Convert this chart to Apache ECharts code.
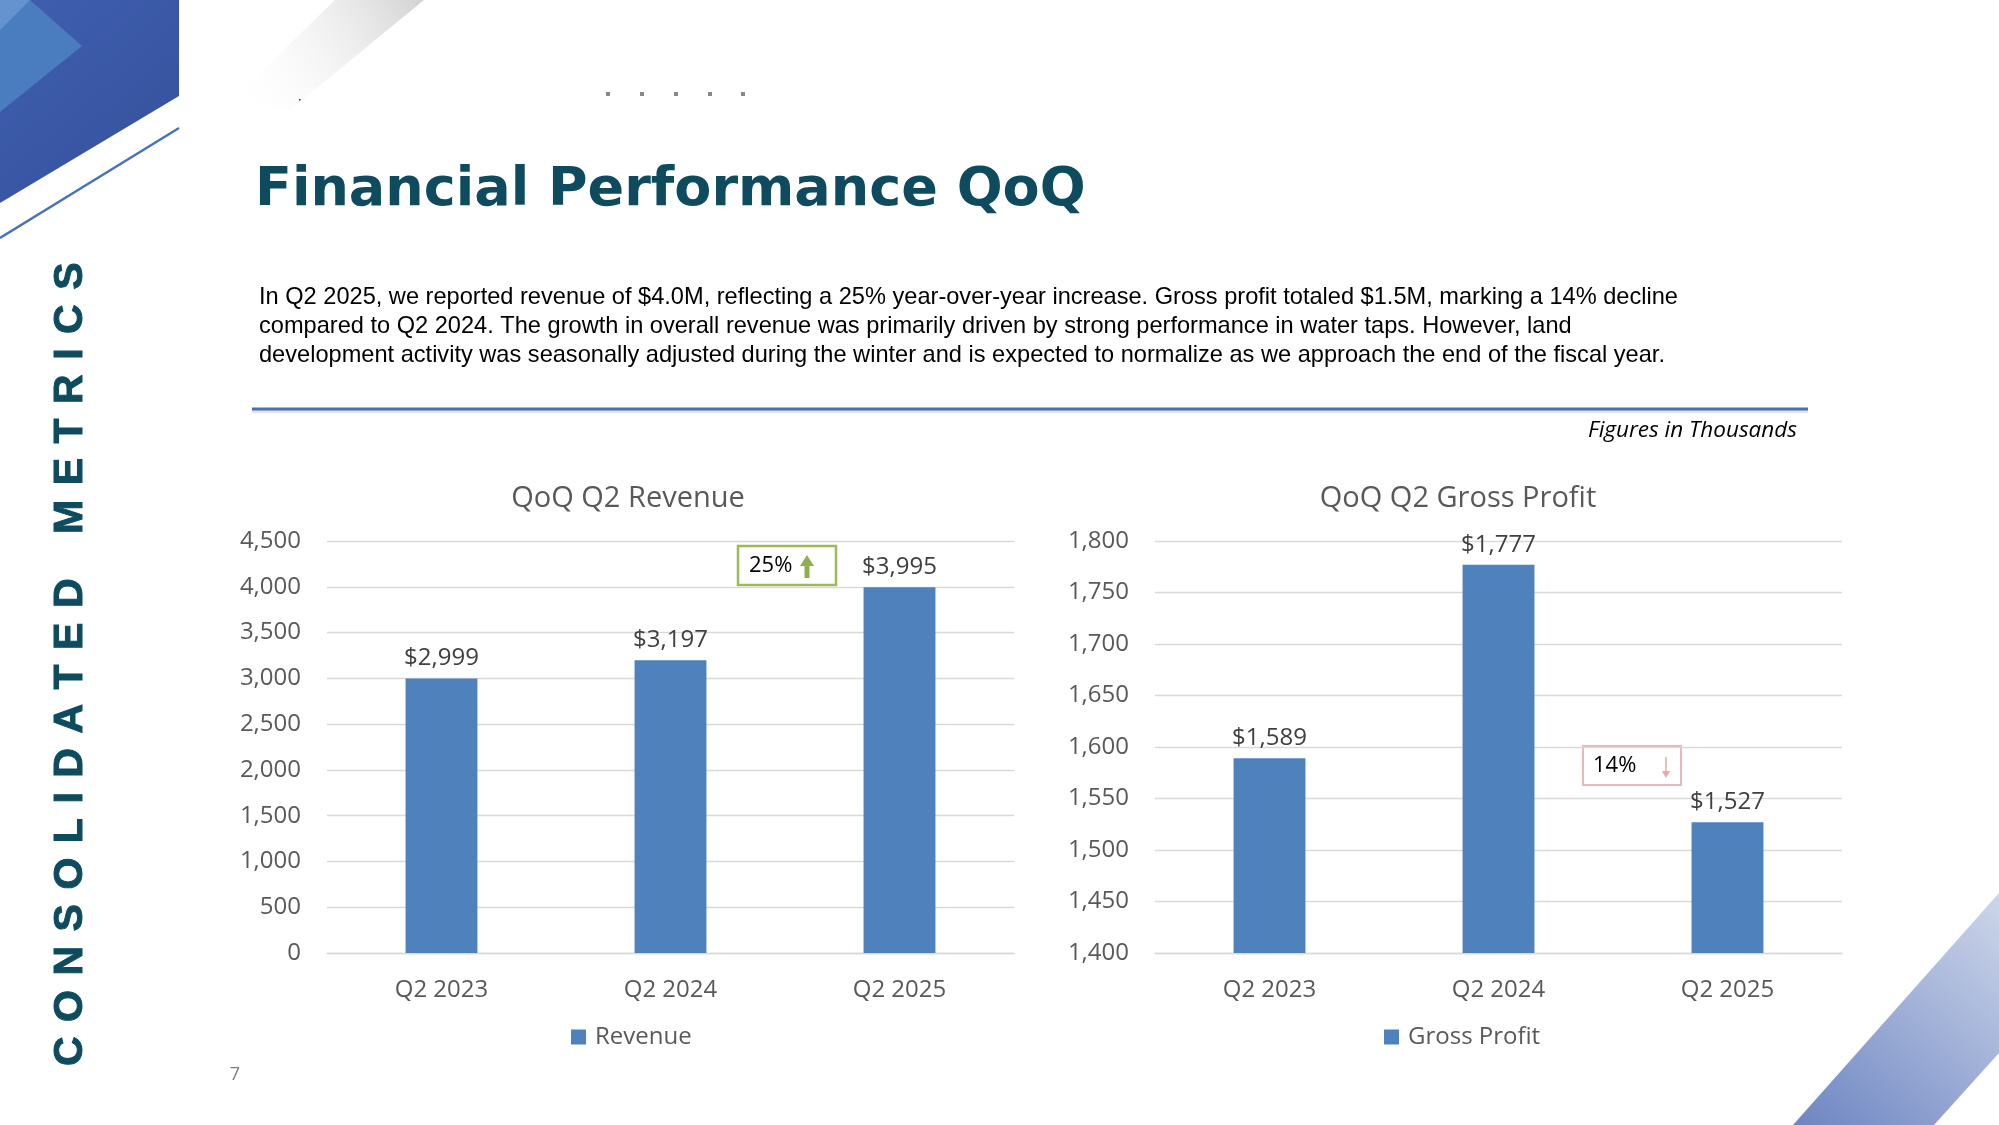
<!DOCTYPE html>
<html><head><meta charset="utf-8">
<script src="https://cdn.jsdelivr.net/npm/echarts@6/dist/echarts.min.js"></script>
<style>html,body{margin:0;padding:0;background:#fff}#c{width:1999px;height:1125px}</style>
</head><body><div id="c"></div>
<script>
// ---- data ----
const categories = ['Q2 2023', 'Q2 2024', 'Q2 2025'];
const revenue = [2999, 3197, 3995];
const grossProfit = [1589, 1777, 1527];
const revenueAxis = { min: 0, max: 4500, interval: 500 };
const grossProfitAxis = { min: 1400, max: 1800, interval: 50 };
const revenueChange = '25%';
const grossProfitChange = '14%';
const pageTitle = 'Financial Performance QoQ';
const sideLabel = 'CONSOLIDATED METRICS';
const paragraph = [
  'In Q2 2025, we reported revenue of $4.0M, reflecting a 25% year-over-year increase. Gross profit totaled $1.5M, marking a 14% decline',
  'compared to Q2 2024. The growth in overall revenue was primarily driven by strong performance in water taps. However, land',
  'development activity was seasonally adjusted during the winter and is expected to normalize as we approach the end of the fiscal year.'
];

const FONT = '"Open Sans", "Noto Sans", sans-serif';
const BAR = '#4f81bd';
const GRID = '#d9d9d9';
const TXT = '#595959';
const TEAL = '#0e4b5e';

const fmt = v => v.toLocaleString('en-US');

const chart = echarts.init(document.getElementById('c'), null, { renderer: 'canvas' });

// vertical side label, letter by letter
const mc = document.createElement('canvas').getContext('2d');
const sideFont = 'bold 41px "Liberation Sans", Arial, sans-serif';
mc.font = sideFont;
const sideEls = [];
let cursor = 1066;
const spacing = 14.5;
for (const ch of sideLabel) {
  if (ch === ' ') { cursor -= 30; continue; }
  const w = mc.measureText(ch).width;
  const c = cursor - w / 2;
  sideEls.push({
    type: 'text', x: 71, y: c, rotation: Math.PI / 2,
    style: { text: ch, fill: TEAL, font: sideFont, align: 'center', verticalAlign: 'middle', stroke: TEAL, lineWidth: 1 }
  });
  cursor -= w + spacing;
}

const graphics = [
  // top-left blue block
  { type: 'polygon', z: -10, shape: { points: [[0,0],[179,0],[179,96],[0,203]] },
    style: { fill: new echarts.graphic.LinearGradient(0, 0, 1, 1, [{offset:0,color:'#3f5fb0'},{offset:1,color:'#34509a'}]) } },
  { type: 'polygon', z: -9, shape: { points: [[0,0],[30,0],[82,46],[0,112]] },
    style: { fill: '#4a7cc0' } },
  { type: 'polygon', z: -9, shape: { points: [[0,0],[30,0],[0,30]] },
    style: { fill: '#6493cf' } },
  // thin blue line
  { type: 'line', z: -10, shape: { x1: 179, y1: 128, x2: 0, y2: 238 },
    style: { stroke: '#4a72b8', lineWidth: 2.5 } },
  // grey stripe
  { type: 'polygon', z: -10, shape: { points: [[335,0],[424,0],[290,110],[232,100]] },
    style: { fill: new echarts.graphic.LinearGradient(1, 0, 0, 1, [{offset:0,color:'#d2d2d2'},{offset:1,color:'rgba(255,255,255,0)'}]) } },
  // bottom-right stripe
  { type: 'polygon', z: -10, shape: { points: [[1793,1125],[1999,893],[1999,1053],[1934,1125]] },
    style: { fill: new echarts.graphic.LinearGradient(0, 1, 1, 0, [{offset:0,color:'#6d85c2'},{offset:1,color:'#cdd6ea'}]) } },
  // dots
  ...[608, 642, 676, 710, 743].map(x => ({ type: 'rect', shape: { x: x - 2, y: 92, width: 4, height: 4 }, style: { fill: '#888' } })),
  { type: 'rect', shape: { x: 299, y: 99, width: 1.5, height: 1.5 }, style: { fill: '#333' } },
  // side label
  ...sideEls,
  // page number
  { type: 'text', x: 235, y: 1075, style: { text: '7', fill: '#7f7f7f', font: '18px ' + FONT, align: 'center', verticalAlign: 'middle' } },
  // page title
  { type: 'text', x: 255, y: 191, style: { text: pageTitle, fill: TEAL, font: 'bold 54px "DejaVu Sans", sans-serif', align: 'left', verticalAlign: 'middle' } },
  // paragraph
  ...paragraph.map((t, i) => ({ type: 'text', x: 259, y: 297 + i * 29,
    style: { text: t, fill: '#000', font: '23.6px "Liberation Sans", Arial, sans-serif', align: 'left', verticalAlign: 'middle' } })),
  // separator
  { type: 'rect', shape: { x: 252, y: 410, width: 1556, height: 3 }, style: { fill: '#e3e3e3' } },
  { type: 'rect', shape: { x: 252, y: 407.5, width: 1556, height: 3 }, style: { fill: '#4a6fb5' } },
  // figures note
  { type: 'text', x: 1797, y: 431, style: { text: 'Figures in Thousands', fill: '#000', font: 'italic 22.5px ' + FONT, align: 'right', verticalAlign: 'middle' } },
  // chart titles
  { type: 'text', x: 628, y: 498.5, style: { text: 'QoQ Q2 Revenue', fill: TXT, font: '29px ' + FONT, align: 'center', verticalAlign: 'middle' } },
  { type: 'text', x: 1458, y: 498.5, style: { text: 'QoQ Q2 Gross Profit', fill: TXT, font: '29px ' + FONT, align: 'center', verticalAlign: 'middle' } },
  // 25% callout
  { type: 'rect', shape: { x: 738, y: 546, width: 98, height: 39 }, style: { fill: '#fff', stroke: '#9bbb59', lineWidth: 2.5 } },
  { type: 'text', x: 749, y: 566, style: { text: revenueChange, fill: '#000', font: '22px ' + FONT, align: 'left', verticalAlign: 'middle' } },
  { type: 'polygon', shape: { points: [[807,555],[814,566],[809.5,566],[809.5,578],[804.5,578],[804.5,566],[800,566]] }, style: { fill: '#8fb050' } },
  // 14% callout
  { type: 'rect', shape: { x: 1583, y: 746, width: 98, height: 39 }, style: { fill: '#fff', stroke: '#e6b9b8', lineWidth: 2 } },
  { type: 'text', x: 1593, y: 766, style: { text: grossProfitChange, fill: '#000', font: '22px ' + FONT, align: 'left', verticalAlign: 'middle' } },
  { type: 'line', shape: { x1: 1666, y1: 757, x2: 1666, y2: 774 }, style: { stroke: '#e8a8a8', lineWidth: 1.5 } },
  { type: 'polygon', shape: { points: [[1662,771],[1670,771],[1666,778]] }, style: { fill: '#e8a8a8' } }
];

const axisCommon = (i) => ({
  type: 'category', gridIndex: i, data: categories,
  axisTick: { show: false },
  axisLine: { lineStyle: { color: GRID, width: 1.3 } },
  axisLabel: { color: TXT, fontSize: 24, fontFamily: FONT, margin: 25 }
});
const yCommon = (i, a) => ({
  type: 'value', gridIndex: i, min: a.min, max: a.max, interval: a.interval,
  axisLine: { show: false }, axisTick: { show: false },
  splitLine: { lineStyle: { color: GRID, width: 1.3 } },
  axisLabel: { color: TXT, fontSize: 24, fontFamily: FONT, margin: 26, formatter: v => fmt(v) }
});
const seriesCommon = (name, data, i) => ({
  name, type: 'bar', data, xAxisIndex: i, yAxisIndex: i,
  barWidth: '31.4%', itemStyle: { color: BAR },
  label: { show: true, position: 'top', distance: 8, color: '#404040', fontSize: 24, fontFamily: FONT, formatter: p => '$' + fmt(p.value) }
});

chart.setOption({
  backgroundColor: '#ffffff',
  animation: false,
  textStyle: { fontFamily: FONT },
  grid: [
    { left: 327, right: 1999 - 1014, top: 541, bottom: 1125 - 953 },
    { left: 1155, right: 1999 - 1842, top: 541, bottom: 1125 - 953 }
  ],
  xAxis: [axisCommon(0), axisCommon(1)],
  yAxis: [yCommon(0, revenueAxis), yCommon(1, grossProfitAxis)],
  legend: [
    { data: ['Revenue'], left: 566, top: 1020, icon: 'rect', itemWidth: 15, itemHeight: 15, itemGap: 8,
      textStyle: { color: TXT, fontSize: 24, fontFamily: FONT, padding: [0, 0, 0, 4] } },
    { data: ['Gross Profit'], left: 1379, top: 1020, icon: 'rect', itemWidth: 15, itemHeight: 15, itemGap: 8,
      textStyle: { color: TXT, fontSize: 24, fontFamily: FONT, padding: [0, 0, 0, 4] } }
  ],
  series: [seriesCommon('Revenue', revenue, 0), seriesCommon('Gross Profit', grossProfit, 1)],
  graphic: { elements: graphics }
});
</script></body></html>
